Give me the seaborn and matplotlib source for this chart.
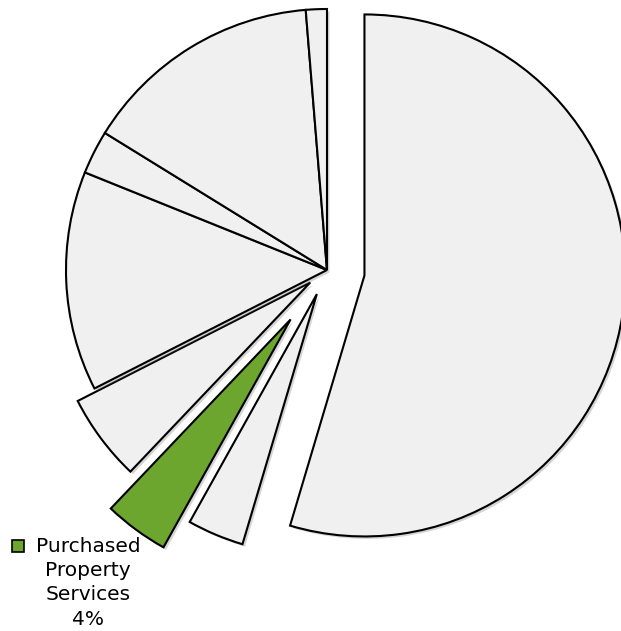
import matplotlib
matplotlib.use("Agg")
import matplotlib.pyplot as plt
import matplotlib.patheffects as pe
from matplotlib.patches import Rectangle
import seaborn as sns

# Budget shares by object, clockwise from 12 o'clock (percent)
categories = [
    "Salaries",
    "Other Purchased Services",
    "Purchased Property Services",
    "Purchased Professional Services",
    "Employee Benefits",
    "Supplies",
    "Transfers",
    "Property",
]
shares = [54.6, 3.5, 4.0, 5.4, 13.6, 2.7, 14.9, 1.3]
highlight = "Purchased Property Services"
highlight_label = "Purchased\nProperty\nServices\n4%"

sns.set_theme(style="white")
plt.rcParams["font.family"] = ["DejaVu Sans"]

W, H, DPI = 621, 631, 100
fig = plt.figure(figsize=(W / DPI, H / DPI), dpi=DPI)
ax = fig.add_axes([0, 0, 1, 1])

base = "#f0f0f0"
green = "#6ca62f"
colors = [green if c == highlight else base for c in categories]
explode = [0.145, 0.10, 0.235, 0.08, 0, 0, 0, 0]

wedges, _ = ax.pie(
    shares,
    explode=explode,
    colors=colors,
    startangle=90,
    counterclock=False,
    radius=1.0,
    center=(0, 0),
    frame=True,
    wedgeprops=dict(edgecolor="black", linewidth=1.5),
)
for w in wedges:
    w.set_path_effects([
        pe.SimplePatchShadow(offset=(1.8, -1.8), shadow_rgbFace="#777777", alpha=0.3),
        pe.Normal(),
    ])

# pixel-scaled viewport: pie centre at (327, 270) px, radius 261 px
R = 261.0
cx, cy = 327.0, 270.0
ax.set_xlim(-cx / R, (W - cx) / R)
ax.set_ylim(-(H - cy) / R, cy / R)
ax.set_aspect("auto")
ax.axis("off")

# data label for the highlighted slice
sq = Rectangle((12 / W, 1 - 552 / H), 12 / W, 12 / H, transform=fig.transFigure,
               facecolor=green, edgecolor="black", linewidth=1.2)
fig.add_artist(sq)
for i, line in enumerate(highlight_label.split("\n")):
    fig.text(88 / W, 1 - (546 + 24.5 * i) / H, line, ha="center", va="center",
             fontsize=14.5, color="black")

fig.savefig("out.png", dpi=DPI)
